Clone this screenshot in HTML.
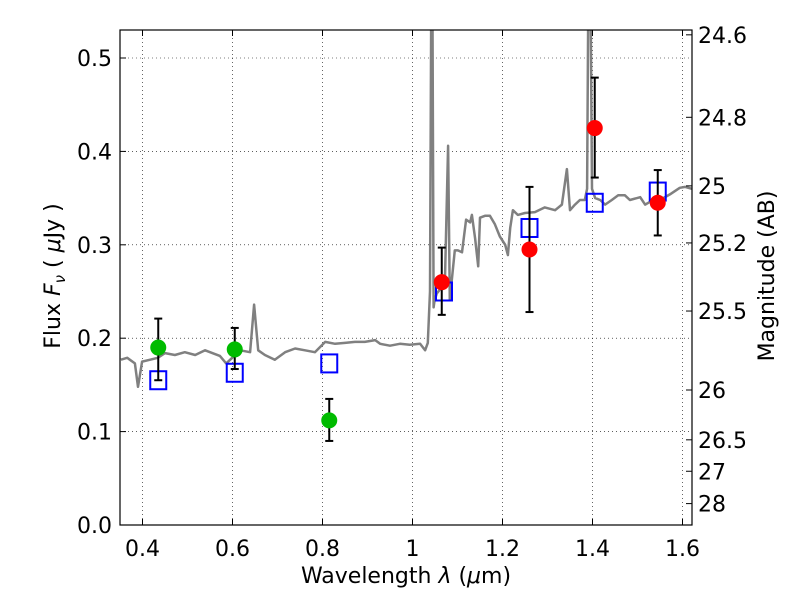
<!DOCTYPE html>
<html><head><meta charset="utf-8"><style>
body{margin:0;background:#fff;}
text{font-family:"DejaVu Sans","Liberation Sans",sans-serif;}
</style></head><body>
<svg id="chart" width="800" height="600" xmlns="http://www.w3.org/2000/svg">
<rect width="800" height="600" fill="#fff"/>
<defs><clipPath id="clip"><rect x="120" y="30" width="572" height="495"/></clipPath></defs>
<g id="grid"></g>
<g id="spec" clip-path="url(#clip)"></g>
<g id="marks"></g>
<rect x="120" y="30" width="572" height="495" fill="none" stroke="#000" stroke-width="1.2"/>
<g id="axes"></g>
<text x="406" y="583" font-size="22" text-anchor="middle">Wavelength  <tspan font-style="italic">λ</tspan> (<tspan font-style="italic">μ</tspan>m)</text>
<text transform="translate(60,276) rotate(-90)" font-size="22" text-anchor="middle">Flux  <tspan font-style="italic">F</tspan><tspan font-style="italic" font-size="15" dy="5">ν</tspan><tspan dy="-5">  ( </tspan><tspan font-style="italic">μ</tspan>Jy )</text>
<text transform="translate(774,276) rotate(-90)" font-size="22" text-anchor="middle">Magnitude (AB)</text>
</svg>
<script>
const specLam=[0.352,0.366,0.383,0.390,0.399,0.417,0.434,0.450,0.472,0.494,0.517,0.539,0.572,0.586,0.617,0.639,0.648,0.657,0.672,0.694,0.717,0.739,0.761,0.783,0.806,0.828,0.850,0.872,0.894,0.917,0.928,0.950,0.972,0.994,1.017,1.028,1.034,1.039,1.042,1.044,1.047,1.049,1.054,1.061,1.072,1.079,1.083,1.094,1.101,1.110,1.119,1.128,1.132,1.139,1.146,1.150,1.161,1.172,1.183,1.194,1.206,1.212,1.217,1.223,1.234,1.25,1.272,1.294,1.317,1.332,1.343,1.35,1.361,1.372,1.383,1.388,1.391,1.395,1.399,1.406,1.417,1.428,1.443,1.457,1.472,1.483,1.506,1.517,1.528,1.539,1.55,1.572,1.594,1.606,1.621];
const specFlux=[0.177,0.179,0.173,0.148,0.175,0.177,0.179,0.184,0.182,0.185,0.182,0.187,0.181,0.173,0.187,0.185,0.236,0.187,0.182,0.177,0.185,0.189,0.187,0.185,0.196,0.194,0.195,0.196,0.196,0.198,0.194,0.192,0.194,0.193,0.194,0.187,0.195,0.25,0.6,0.6,0.233,0.24,0.248,0.252,0.26,0.406,0.241,0.294,0.294,0.292,0.327,0.324,0.332,0.307,0.277,0.329,0.331,0.331,0.322,0.309,0.300,0.289,0.318,0.337,0.332,0.334,0.335,0.340,0.337,0.343,0.381,0.337,0.343,0.348,0.348,0.36,0.6,0.6,0.36,0.350,0.348,0.343,0.348,0.353,0.353,0.348,0.351,0.343,0.346,0.343,0.348,0.354,0.361,0.362,0.360];
const greenLam=[0.435,0.605,0.815];
const greenFlux=[0.19,0.188,0.112];
const greenLo=[0.155,0.167,0.09];
const greenHi=[0.221,0.211,0.135];
const redLam=[1.065,1.26,1.405,1.545];
const redFlux=[0.26,0.295,0.425,0.345];
const redLo=[0.225,0.228,0.372,0.31];
const redHi=[0.297,0.362,0.479,0.38];
const boxLam=[0.435,0.605,0.815,1.07,1.26,1.405,1.545];
const boxFlux=[0.155,0.163,0.173,0.25,0.318,0.345,0.357];
const xTicks=[0.4,0.6,0.8,1,1.2,1.4,1.6];
const xTickLabels=["0.4","0.6","0.8","1","1.2","1.4","1.6"];
const yTicks=[0,0.1,0.2,0.3,0.4,0.5];
const yTickLabels=["0.0","0.1","0.2","0.3","0.4","0.5"];
const magTicks=[24.6,24.8,25,25.2,25.5,26,26.5,27,28];
const magTickLabels=["24.6","24.8","25","25.2","25.5","26","26.5","27","28"];

const NS="http://www.w3.org/2000/svg";
const X=v=>120+(v-0.35)*450;
const Y=v=>525-v*934;
const magToY=m=>Y(Math.pow(10,(23.9-m)/2.5));
function mk(tag,attrs,parent){const e=document.createElementNS(NS,tag);for(const k in attrs)e.setAttribute(k,attrs[k]);parent.appendChild(e);return e;}
const grid=document.getElementById('grid'),spec=document.getElementById('spec'),marks=document.getElementById('marks'),axes=document.getElementById('axes');

xTicks.forEach((t,i)=>{
  const gl=mk('line',{x1:X(t),x2:X(t),y1:30,y2:525,stroke:'#000','stroke-width':0.6,'stroke-dasharray':'1,3'},grid);
  
  
  mk('line',{x1:X(t),x2:X(t),y1:525,y2:519,stroke:'#000'},axes);
  mk('line',{x1:X(t),x2:X(t),y1:30,y2:36,stroke:'#000'},axes);
  const tx=mk('text',{x:X(t),y:556,'font-size':22,'text-anchor':'middle'},axes);
  tx.textContent=xTickLabels[i];
  
  
});
yTicks.forEach((t,i)=>{
  const gl=mk('line',{x1:120,x2:692,y1:Y(t),y2:Y(t),stroke:'#000','stroke-width':0.6,'stroke-dasharray':'1,3'},grid);
  
  
  mk('line',{x1:120,x2:126,y1:Y(t),y2:Y(t),stroke:'#000'},axes);
  const tx=mk('text',{x:112,y:Y(t)+8,'font-size':22,'text-anchor':'end'},axes);
  tx.textContent=yTickLabels[i];
  
  
});
magTicks.forEach((m,i)=>{
  const y=magToY(m);
  mk('line',{x1:686,x2:692,y1:y,y2:y,stroke:'#000'},axes);
  const tx=mk('text',{x:698,y:y+8,'font-size':22},axes);
  tx.textContent=magTickLabels[i];
  
  
});

const pts=specLam.map((l,i)=>X(l).toFixed(1)+','+Y(specFlux[i]).toFixed(1)).join(' ');
const pl=mk('polyline',{points:pts,fill:'none',stroke:'#808080','stroke-width':2.5,'stroke-linejoin':'round'},spec);



boxLam.forEach((l,i)=>{
  const r=mk('rect',{x:X(l)-8,y:Y(boxFlux[i])-9,width:16,height:18,fill:'none',stroke:'#0000ff','stroke-width':2},marks);
  
  
});
function pointsWithErr(lam,flux,lo,hi,color,name){
  lam.forEach((l,i)=>{
    const x=X(l);
    const e=mk('g',{},marks);
    
    
    mk('line',{x1:x,x2:x,y1:Y(lo[i]),y2:Y(hi[i]),stroke:'#000','stroke-width':2},e);
    mk('line',{x1:x-4,x2:x+4,y1:Y(lo[i]),y2:Y(lo[i]),stroke:'#000','stroke-width':2},e);
    mk('line',{x1:x-4,x2:x+4,y1:Y(hi[i]),y2:Y(hi[i]),stroke:'#000','stroke-width':2},e);
    const c=mk('circle',{cx:x,cy:Y(flux[i]),r:8,fill:color},marks);
    
    
  });
}
pointsWithErr(greenLam,greenFlux,greenLo,greenHi,'#00bb00','green-photometry');
pointsWithErr(redLam,redFlux,redLo,redHi,'#ff0000','red-photometry');
</script>
</body></html>
